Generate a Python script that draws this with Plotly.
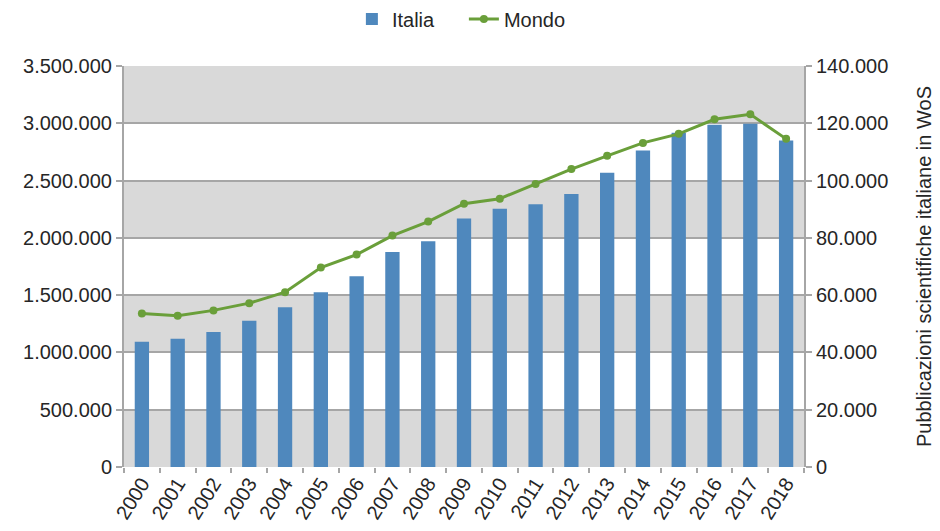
import plotly.graph_objects as go

years = [str(y) for y in range(2000, 2019)]
italia = [43700, 44800, 47100, 51100, 55800, 61000, 66600, 75100, 78800, 86800,
          90200, 91700, 95300, 102700, 110500, 116700, 119500, 119800, 114000]
mondo = [1340000, 1320000, 1367000, 1430000, 1526000, 1741000, 1854000, 2020000, 2142000, 2298000,
         2342000, 2469000, 2600000, 2716000, 2829000, 2908000, 3035000, 3078000, 2864000]
left_ticks = [0, 500000, 1000000, 1500000, 2000000, 2500000, 3000000, 3500000]
right_ticks = [0, 20000, 40000, 60000, 80000, 100000, 120000, 140000]

FONT = "Liberation Sans, Arial, Helvetica, sans-serif"
TXT = "#262626"
GRID = "#A6A6A6"
BAND = "#D9D9D9"

fig = go.Figure()
fig.add_trace(go.Bar(x=years, y=italia, name="Italia", marker=dict(color="#4F88BD", line=dict(width=0)),
                     yaxis="y"))
fig.add_trace(go.Scatter(x=years, y=mondo, name="Mondo", mode="lines+markers",
                         line=dict(color="#6A9F3A", width=3), marker=dict(size=8, color="#6A9F3A"),
                         yaxis="y2"))

# alternating grey bands (on the primary axis, below gridlines)
shapes = []
for i in range(0, len(right_ticks) - 1, 2):
    shapes.append(dict(type="rect", xref="paper", x0=0, x1=1, yref="y",
                       y0=right_ticks[i], y1=right_ticks[i + 1],
                       fillcolor=BAND, line=dict(width=0), layer="below"))
shapes.append(dict(type="rect", xref="paper", x0=0, x1=1, yref="y",
                   y0=right_ticks[-2], y1=right_ticks[-1],
                   fillcolor=BAND, line=dict(width=0), layer="below"))

fig.update_layout(
    width=940, height=531,
    margin=dict(l=124, r=136, t=66, b=64),
    paper_bgcolor="white", plot_bgcolor="white",
    separators=",.",
    font=dict(family=FONT, size=20, color=TXT),
    bargap=0.6,
    showlegend=True,
    legend=dict(orientation="h", x=0.4935, xanchor="center", xref="container",
                y=0.964, yanchor="middle", yref="container",
                font=dict(size=20, color=TXT), itemwidth=30, entrywidth=67,
                bgcolor="rgba(0,0,0,0)", tracegroupgap=0),
    shapes=shapes,
    xaxis=dict(type="category", range=[-0.5, len(years) - 0.5], tickangle=-58, tickson="boundaries",
               ticks="outside", ticklen=5,
               tickcolor=GRID, tickwidth=2, showline=False, showgrid=False, automargin=False,
               tickfont=dict(size=20, color=TXT)),
    yaxis=dict(side="right", range=[0, 140000], tickvals=right_ticks, tickformat=",",
               showgrid=True, gridcolor=GRID, gridwidth=2, showline=True, linecolor=GRID, linewidth=2,
               ticks="outside", ticklen=6, tickcolor=GRID, tickwidth=2, automargin=False,
               title=dict(text="Pubblicazioni scientifiche italiane in WoS", font=dict(size=20, color=TXT),
                          standoff=30),
               tickfont=dict(size=20, color=TXT), zeroline=False),
    yaxis2=dict(side="left", overlaying="y", range=[0, 3500000], tickvals=left_ticks, tickformat=",",
                showgrid=False, showline=True, linecolor=GRID, linewidth=2, automargin=False,
                ticks="outside", ticklen=6, tickcolor=GRID, tickwidth=2,
                tickfont=dict(size=20, color=TXT), zeroline=False),
)

fig.write_html("out.html", post_script="document.body.style.margin='0';",
               config={"displayModeBar": False})
